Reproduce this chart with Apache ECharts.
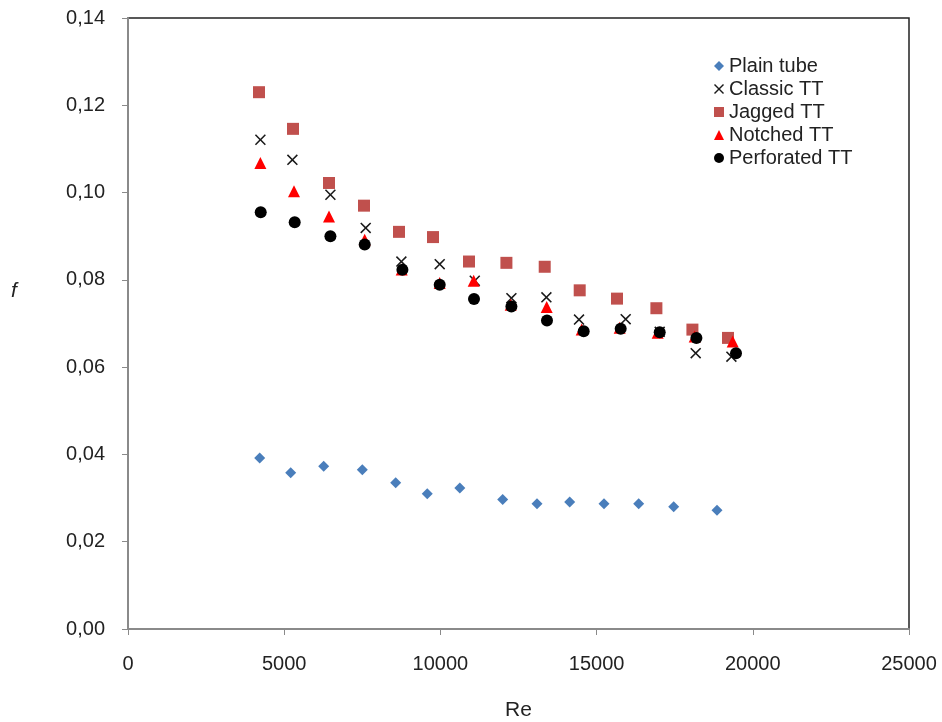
<!DOCTYPE html>
<html>
<head>
<meta charset="utf-8">
<script src="https://cdn.jsdelivr.net/npm/echarts@6/dist/echarts.min.js"></script>
<style>
  html, body { margin: 0; padding: 0; background: #fff; }
  #chart { width: 942px; height: 722px; }
</style>
</head>
<body>
<div id="chart"></div>
<script>
// ---- data ----
var seriesNames = ['Plain tube', 'Classic TT', 'Jagged TT', 'Notched TT', 'Perforated TT'];

var plainRe = [4216, 5208, 6264, 7500, 8569, 9580, 10621, 11994, 13093, 14139, 15237, 16348, 17468, 18854];
var plainF  = [0.0392, 0.0358, 0.0373, 0.0365, 0.0335, 0.0310, 0.0323, 0.0297, 0.0287, 0.0291, 0.0287, 0.0287, 0.0280, 0.0272];

var classicRe = [4238, 5262, 6479, 7609, 8751, 9978, 11100, 12273, 13393, 14437, 15931, 17020, 18172, 19315];
var classicF  = [0.1121, 0.1075, 0.0995, 0.0919, 0.0842, 0.0836, 0.0798, 0.0758, 0.0760, 0.0709, 0.0710, 0.0681, 0.0632, 0.0624];

var jaggedRe = [4193, 5282, 6434, 7554, 8675, 9763, 10915, 12113, 13339, 14459, 15653, 16914, 18067, 19206];
var jaggedF  = [0.1230, 0.1146, 0.1022, 0.0970, 0.0910, 0.0898, 0.0842, 0.0839, 0.0830, 0.0776, 0.0757, 0.0735, 0.0686, 0.0667];

var notchedRe = [4238, 5314, 6434, 7577, 8761, 9978, 11066, 12250, 13403, 14523, 15739, 16955, 18140, 19356];
var notchedF  = [0.1068, 0.1003, 0.0945, 0.0892, 0.0824, 0.0793, 0.0798, 0.0743, 0.0738, 0.0686, 0.0690, 0.0679, 0.0670, 0.0659];

var perfRe = [4248, 5336, 6479, 7577, 8784, 9978, 11076, 12273, 13412, 14587, 15771, 17020, 18195, 19462];
var perfF  = [0.0955, 0.0932, 0.0900, 0.0881, 0.0823, 0.0789, 0.0756, 0.0739, 0.0707, 0.0682, 0.0688, 0.0680, 0.0667, 0.0632];

var xTicks = [0, 5000, 10000, 15000, 20000, 25000];
var yTicks = [0, 0.02, 0.04, 0.06, 0.08, 0.10, 0.12, 0.14];
var xTitle = 'Re';
var yTitle = 'f';

function pairs(xs, ys) {
  return xs.map(function (x, i) { return [x, ys[i]]; });
}

var crossPath = 'path://M0,1L1,0L5,4L9,0L10,1L6,5L10,9L9,10L5,6L1,10L0,9L4,5Z';
var font = 'Liberation Sans, Arial, sans-serif';

var chart = echarts.init(document.getElementById('chart'), null, { renderer: 'canvas' });
chart.setOption({
  backgroundColor: '#ffffff',
  animation: false,
  textStyle: { fontFamily: font },
  grid: {
    left: 128, right: 33, top: 18, bottom: 93,
    outerBoundsMode: 'none', containLabel: false,
    show: true, borderColor: '#222', borderWidth: 1.5, backgroundColor: 'transparent'
  },
  legend: {
    orient: 'vertical',
    left: 709, top: 51,
    itemWidth: 10, itemHeight: 10, itemGap: 3,
    textStyle: { fontFamily: font, fontSize: 20, color: '#222' },
    data: seriesNames
  },
  graphic: [{
    type: 'text', left: 11, top: 281,
    style: { text: yTitle, fontFamily: font, fontSize: 21, fontStyle: 'italic', fill: '#222' }
  }],
  xAxis: {
    type: 'value',
    min: xTicks[0], max: xTicks[xTicks.length - 1], interval: 5000,
    name: xTitle, nameLocation: 'middle', nameGap: 71,
    nameTextStyle: { fontFamily: font, fontSize: 21, color: '#222' },
    axisLine: { lineStyle: { color: '#8a8a8a', width: 2 } },
    axisTick: { show: true, length: 6, lineStyle: { color: '#8a8a8a', width: 1 } },
    axisLabel: { margin: 25, fontFamily: font, fontSize: 20, color: '#222',
      formatter: function (v) { return String(v); } },
    splitLine: { show: false }
  },
  yAxis: {
    type: 'value',
    min: yTicks[0], max: yTicks[yTicks.length - 1], interval: 0.02,
    axisLine: { lineStyle: { color: '#8a8a8a', width: 2 } },
    axisTick: { show: true, length: 6, lineStyle: { color: '#8a8a8a', width: 1 } },
    axisLabel: { margin: 23, fontFamily: font, fontSize: 20, color: '#222',
      formatter: function (v) { return v.toFixed(2).replace('.', ','); } },
    splitLine: { show: false }
  },
  series: [
    { name: seriesNames[0], type: 'scatter', symbol: 'diamond', symbolSize: 11,
      itemStyle: { color: '#4a7ebb', opacity: 1 }, data: pairs(plainRe, plainF) },
    { name: seriesNames[1], type: 'scatter', symbol: crossPath, symbolSize: 11,
      itemStyle: { color: '#1a1a1a', opacity: 1 }, data: pairs(classicRe, classicF) },
    { name: seriesNames[2], type: 'scatter', symbol: 'rect', symbolSize: 12,
      itemStyle: { color: '#c0504d', opacity: 1 }, data: pairs(jaggedRe, jaggedF) },
    { name: seriesNames[3], type: 'scatter', symbol: 'triangle', symbolSize: 12,
      itemStyle: { color: '#ff0000', opacity: 1 }, data: pairs(notchedRe, notchedF) },
    { name: seriesNames[4], type: 'scatter', symbol: 'circle', symbolSize: 12,
      itemStyle: { color: '#000000', opacity: 1 }, data: pairs(perfRe, perfF) }
  ]
});
</script>
</body>
</html>
